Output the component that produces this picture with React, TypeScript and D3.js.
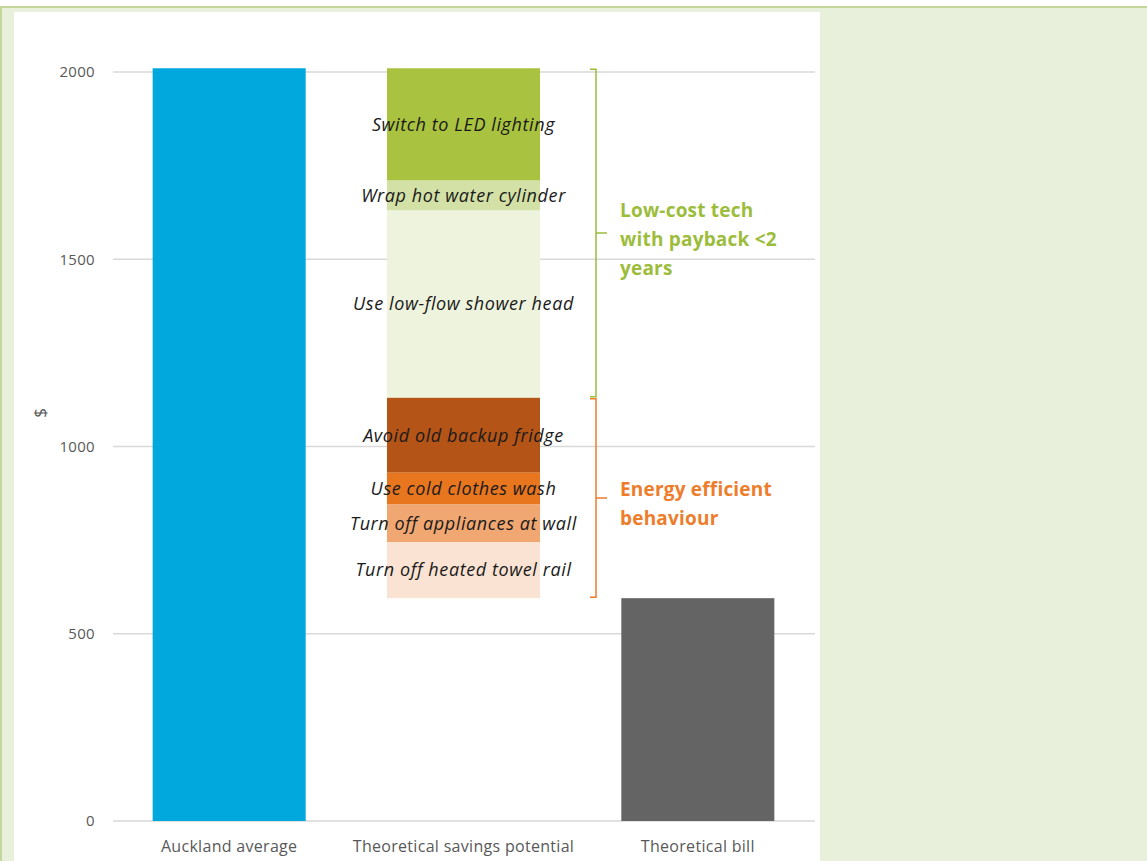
import React from "react";
import * as d3 from "d3";

const categories = ["Auckland average", "Theoretical savings potential", "Theoretical bill"];
const aucklandAverage = 2010;
const savingsLabels = [
  "Switch to LED lighting",
  "Wrap hot water cylinder",
  "Use low-flow shower head",
  "Avoid old backup fridge",
  "Use cold clothes wash",
  "Turn off appliances at wall",
  "Turn off heated towel rail",
];
const savingsValues = [300, 80, 500, 200, 85, 100, 150];
const savingsColors = ["#a9c23f", "#d3e1a6", "#eef3dd", "#b45417", "#e8761f", "#f1a771", "#fae3d3"];
const yTicks = [0, 500, 1000, 1500, 2000];
const groups = [
  { lines: ["Low-cost tech", "with payback <2", "years"], from: 0, to: 3, color: "#9cbd3c" },
  { lines: ["Energy efficient", "behaviour"], from: 3, to: 7, color: "#ee7d2b" },
];

export default function App() {
  const W = 1147, H = 861;
  const y = d3.scaleLinear().domain([0, 2000]).range([821, 72]);
  const x = d3.scaleBand().domain(categories).range([112, 815]).paddingInner(0.347).paddingOuter(0.1735);
  const bw = x.bandwidth();

  let cur = aucklandAverage;
  const segs = savingsValues.map((v, i) => {
    const top = cur;
    cur -= v;
    return { label: savingsLabels[i], top, bottom: cur, color: savingsColors[i] };
  });
  const bill = cur;
  const font = "'Open Sans', 'DejaVu Sans', sans-serif";
  const bx = 596;

  return (
    <svg width={W} height={H} style={{ position: "absolute", left: 0, top: 0 }} fontFamily={font}>
      <rect x={0} y={0} width={W} height={H} fill="#ffffff" />
      <rect x={0} y={6} width={W} height={H - 6} fill="#e8f0dc" />
      <rect x={0} y={6} width={W} height={2} fill="#c4d79b" />
      <rect x={0} y={6} width={2} height={H - 6} fill="#c4d79b" />
      <rect x={14} y={12} width={806} height={H - 12} fill="#ffffff" />

      {yTicks.map((t) => (
        <g key={t}>
          <line x1={113} x2={815} y1={y(t)} y2={y(t)} stroke="#d9d9d9" strokeWidth={1.5} />
          <text x={95} y={y(t)} dy="0.35em" textAnchor="end" fontSize={15} letterSpacing={0.3} fill="#595959">{t}</text>
        </g>
      ))}
      <text transform={`translate(40,${y(1090)}) rotate(-90)`} textAnchor="middle" dy="0.35em" fontSize={17} fill="#595959">$</text>

      <rect x={x(categories[0])} y={y(aucklandAverage)} width={bw} height={y(0) - y(aucklandAverage)} fill="#00a8de" />
      {segs.map((s) => (
        <rect key={s.label} x={x(categories[1])} y={y(s.top)} width={bw} height={y(s.bottom) - y(s.top)} fill={s.color} />
      ))}
      <rect x={x(categories[2])} y={y(bill)} width={bw} height={y(0) - y(bill)} fill="#646464" />

      {segs.map((s) => (
        <text key={s.label + "t"} x={(x(categories[1]) as number) + bw / 2} y={(y(s.top) + y(s.bottom)) / 2} dy="0.35em"
          textAnchor="middle" fontSize={18} letterSpacing={0.6} fontStyle="italic" fill="#1a1a1a">{s.label}</text>
      ))}

      {categories.map((c) => (
        <text key={c} x={(x(c) as number) + bw / 2} y={846} dy="0.35em" textAnchor="middle" fontSize={16} letterSpacing={0.3} fill="#595959">{c}</text>
      ))}

      {groups.map((g) => {
        const topV = segs[g.from].top;
        const botV = segs[g.to - 1].bottom;
        const y1 = y(topV) + 1, y2 = y(botV) - 1;
        const ym = (y1 + y2) / 2;
        return (
          <g key={g.lines[0]}>
            <path d={`M${bx - 6},${y1} H${bx} V${y2} H${bx - 6} M${bx},${ym} H${bx + 11}`} fill="none" stroke={g.color} strokeWidth={1.5} />
            {g.lines.map((l, i) => (
              <text key={l} x={620} y={ym + 6 + (i - (g.lines.length - 1) / 2) * 29} dy="0.35em" fontSize={19} letterSpacing={0.2} fontWeight="bold" fill={g.color}>{l}</text>
            ))}
          </g>
        );
      })}
    </svg>
  );
}
